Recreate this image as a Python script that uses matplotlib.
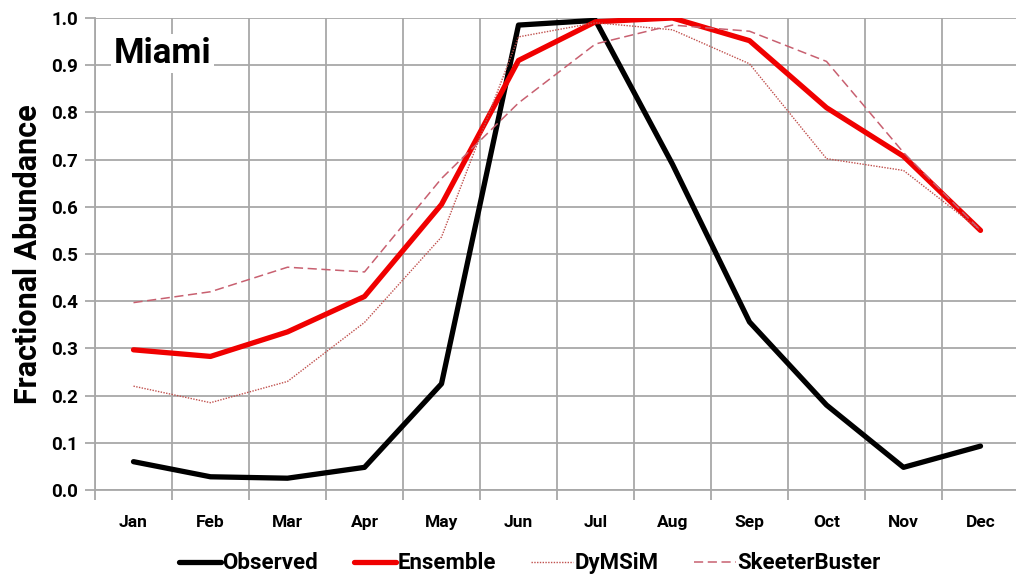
import matplotlib
matplotlib.use("Agg")
import matplotlib.pyplot as plt
import numpy as np

# chart data
months = ["Jan", "Feb", "Mar", "Apr", "May", "Jun", "Jul", "Aug", "Sep", "Oct", "Nov", "Dec"]
observed = [0.060, 0.028, 0.025, 0.048, 0.225, 0.985, 0.995, 0.690, 0.356, 0.180, 0.048, 0.093]
ensemble = [0.297, 0.283, 0.335, 0.410, 0.605, 0.910, 0.992, 1.000, 0.952, 0.810, 0.707, 0.550]
dymsim = [0.220, 0.185, 0.230, 0.355, 0.536, 0.960, 0.990, 0.975, 0.903, 0.702, 0.677, 0.550]
skeeter = [0.397, 0.420, 0.472, 0.462, 0.660, 0.820, 0.945, 0.985, 0.972, 0.908, 0.715, 0.550]
y_ticks = [0.0, 0.1, 0.2, 0.3, 0.4, 0.5, 0.6, 0.7, 0.8, 0.9, 1.0]

plt.rcParams['font.family'] = ['Roboto', 'DejaVu Sans']

fig = plt.figure(figsize=(10.16, 5.76), dpi=100)
ax = fig.add_axes([95 / 1016, 86 / 576, 924 / 1016, 472 / 576])

x = np.arange(len(months))
ax.plot(x, observed, color="black", lw=3.8, solid_joinstyle="round", solid_capstyle="round", label="Observed")
ax.plot(x, ensemble, color="#f00000", lw=3.8, solid_joinstyle="round", solid_capstyle="round", label="Ensemble")
ax.plot(x, dymsim, color="#c0504d", lw=1.0, ls=(0, (1, 1)), label="DyMSiM")
ax.plot(x, skeeter, color="#c86070", lw=1.1, ls=(0, (6, 3)), label="SkeeterBuster")

ax.set_xlim(-0.5, 11.5)
ax.set_ylim(0, 1.0)
ax.set_xticks(x)
ax.set_xticklabels(months, fontsize=12.5, fontweight="bold")
ax.set_xticks(np.arange(-0.5, 12, 1), minor=True)
ax.set_yticks(y_ticks)
ax.set_yticklabels([f"{v:.1f}" for v in y_ticks], fontsize=13.5, fontweight="bold")

# grid lines in light gray, ticks sticking out like Excel
grid_col = "#a8a8a8"
ax.grid(True, axis="y", color=grid_col, lw=1.3, zorder=0)
ax.grid(True, axis="x", which="minor", color=grid_col, lw=1.3, zorder=0)
ax.tick_params(axis="x", which="major", length=0, pad=18)
ax.tick_params(axis="x", which="minor", length=7, color=grid_col, width=1.3)
ax.tick_params(axis="y", length=7, color=grid_col, width=1.3, pad=5)
for side in ["top", "right"]:
    ax.spines[side].set_visible(False)
for side in ["left", "bottom"]:
    ax.spines[side].set_color(grid_col)
    ax.spines[side].set_linewidth(1.3)
ax.set_axisbelow(True)

ax.set_ylabel("Fractional Abundance", fontsize=22, fontweight="bold")
ax.yaxis.set_label_coords(-0.056, 0.5)

ax.text(0.02, 0.925, "Miami", transform=ax.transAxes, fontsize=25, fontweight="bold",
        va="center", ha="left", bbox=dict(facecolor="white", edgecolor="none", pad=2))

ax.legend(loc="upper center", bbox_to_anchor=((530 - 95) / 924, -0.09), ncol=4, frameon=False,
          handlelength=1.9, handletextpad=0.05, columnspacing=1.6,
          prop={"size": 16, "weight": "bold"})

fig.savefig("out.png", dpi=100)
